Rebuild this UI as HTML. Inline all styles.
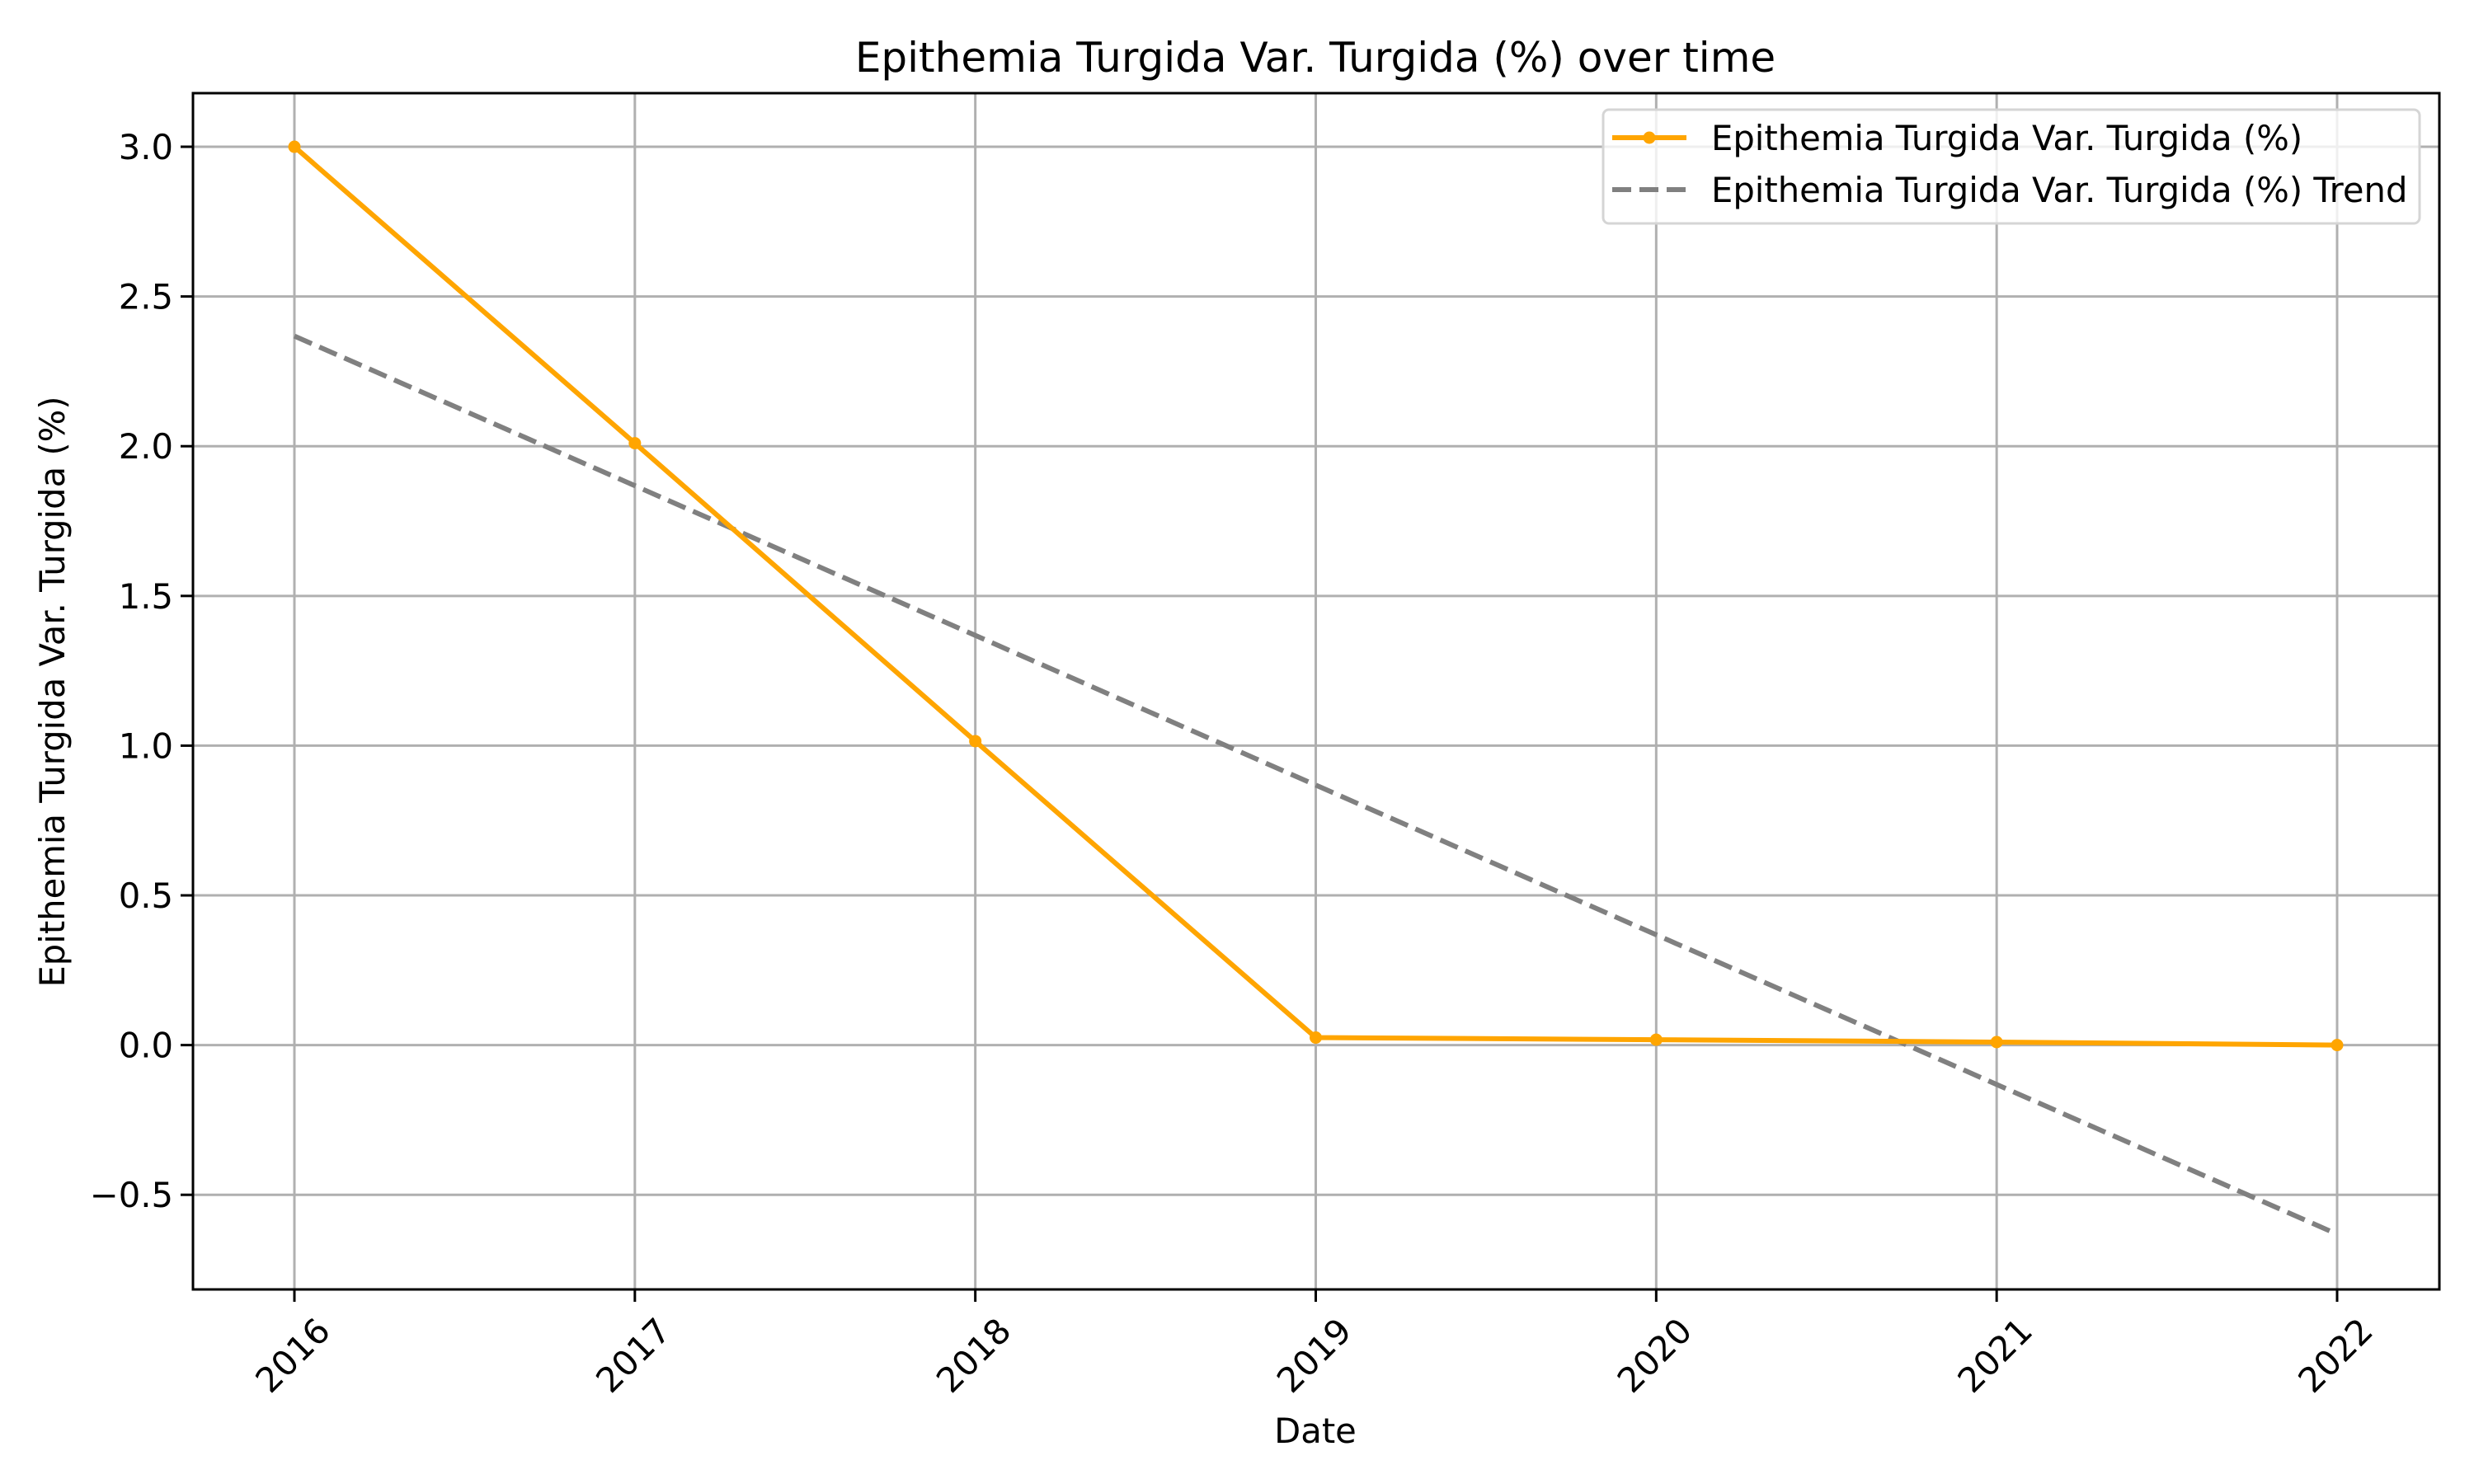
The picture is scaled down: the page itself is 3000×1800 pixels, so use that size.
<!DOCTYPE html>
<html><head><meta charset="utf-8"><style>
html,body{margin:0;padding:0;background:#fff;}
svg{display:block;font-family:"DejaVu Sans","Liberation Sans",sans-serif;}
</style></head><body>
<svg id="chart" width="3000" height="1800" viewBox="0 0 3000 1800">
<rect width="3000" height="1800" fill="#fff"/>
<text x="1595" y="87" font-size="50" text-anchor="middle">Epithemia Turgida Var. Turgida (%) over time</text>
<g id="grid"></g>
<g id="series"></g>
<rect x="234" y="113" width="2724" height="1451" fill="none" stroke="#000" stroke-width="3"/>
<g id="ticks"></g>
<text x="1595" y="1750" font-size="41.7" text-anchor="middle">Date</text>
<text transform="translate(78,839) rotate(-90)" font-size="41.7" text-anchor="middle">Epithemia Turgida Var. Turgida (%)</text>
<g>
<rect x="1944" y="133" width="990" height="138" rx="7" fill="#fff" fill-opacity="0.8" stroke="#d5d5d5" stroke-width="3"/>
<line x1="1955" y1="167" x2="2045" y2="167" stroke="#FFA500" stroke-width="6"/>
<circle cx="2000" cy="167" r="7.5" fill="#FFA500"/>
<text x="2075" y="182" font-size="41.7">Epithemia Turgida Var. Turgida (%)</text>
<line x1="1955" y1="230" x2="2045" y2="230" stroke="#808080" stroke-width="6" stroke-dasharray="23,10"/>
<text x="2075" y="245" font-size="41.7">Epithemia Turgida Var. Turgida (%) Trend</text>
</g>
</svg>
<script>
const years = [2016, 2017, 2018, 2019, 2020, 2021, 2022];
const values = [3.0, 2.01, 1.015, 0.025, 0.018, 0.01, 0.0];
const yTicks = [-0.5, 0.0, 0.5, 1.0, 1.5, 2.0, 2.5, 3.0];
const yTickLabels = ["\u22120.5", "0.0", "0.5", "1.0", "1.5", "2.0", "2.5", "3.0"];

const NS = "http://www.w3.org/2000/svg";
const L = 234, R = 2958, T = 113, B = 1564;
const x0 = 357, x1 = 2834;
const xS = v => x0 + (v - years[0]) * (x1 - x0) / (years[years.length - 1] - years[0]);
const yMin = -0.816, yMax = 3.179;
const yS = v => B - (v - yMin) * (B - T) / (yMax - yMin);
function mk(tag, attrs, parent) {
  const e = document.createElementNS(NS, tag);
  for (const k in attrs) e.setAttribute(k, attrs[k]);
  parent.appendChild(e);
  return e;
}
const grid = document.getElementById('grid');
const ticks = document.getElementById('ticks');
const series = document.getElementById('series');

years.forEach(y => {
  const x = xS(y);
  const g = mk('line', {x1: x, x2: x, y1: T, y2: B, stroke: '#b0b0b0', 'stroke-width': 3}, grid);
  
  
  const t = mk('line', {x1: x, x2: x, y1: B, y2: B + 15, stroke: '#000', 'stroke-width': 3}, ticks);
  
  
  const lb = mk('text', {transform: `translate(${x - 2},${B + 80}) rotate(-45)`, 'font-size': 41.7, 'text-anchor': 'middle', 'dominant-baseline': 'central'}, ticks);
  lb.textContent = y;
  
  
});
yTicks.forEach((v, i) => {
  const y = yS(v);
  const g = mk('line', {x1: L, x2: R, y1: y, y2: y, stroke: '#b0b0b0', 'stroke-width': 3}, grid);
  
  
  const t = mk('line', {x1: L - 15, x2: L, y1: y, y2: y, stroke: '#000', 'stroke-width': 3}, ticks);
  
  
  const lb = mk('text', {x: L - 24, y: y + 15, 'font-size': 41.7, 'text-anchor': 'end'}, ticks);
  lb.textContent = yTickLabels[i];
  
  
});

const n = years.length;
const mx = years.reduce((a, b) => a + b, 0) / n;
const my = values.reduce((a, b) => a + b, 0) / n;
let sxy = 0, sxx = 0;
years.forEach((x, i) => { sxy += (x - mx) * (values[i] - my); sxx += (x - mx) * (x - mx); });
const slope = sxy / sxx, icpt = my - slope * mx;
const tr = mk('line', {x1: xS(years[0]), y1: yS(slope * years[0] + icpt), x2: xS(years[n - 1]), y2: yS(slope * years[n - 1] + icpt), stroke: '#808080', 'stroke-width': 6, 'stroke-dasharray': '23,10'}, series);



const pts = years.map((x, i) => xS(x) + ',' + yS(values[i])).join(' ');
const pl = mk('polyline', {points: pts, fill: 'none', stroke: '#FFA500', 'stroke-width': 6, 'stroke-linejoin': 'round'}, series);


years.forEach((x, i) => {
  const c = mk('circle', {cx: xS(x), cy: yS(values[i]), r: 7.5, fill: '#FFA500'}, series);
  
  
});
</script>
</body></html>
